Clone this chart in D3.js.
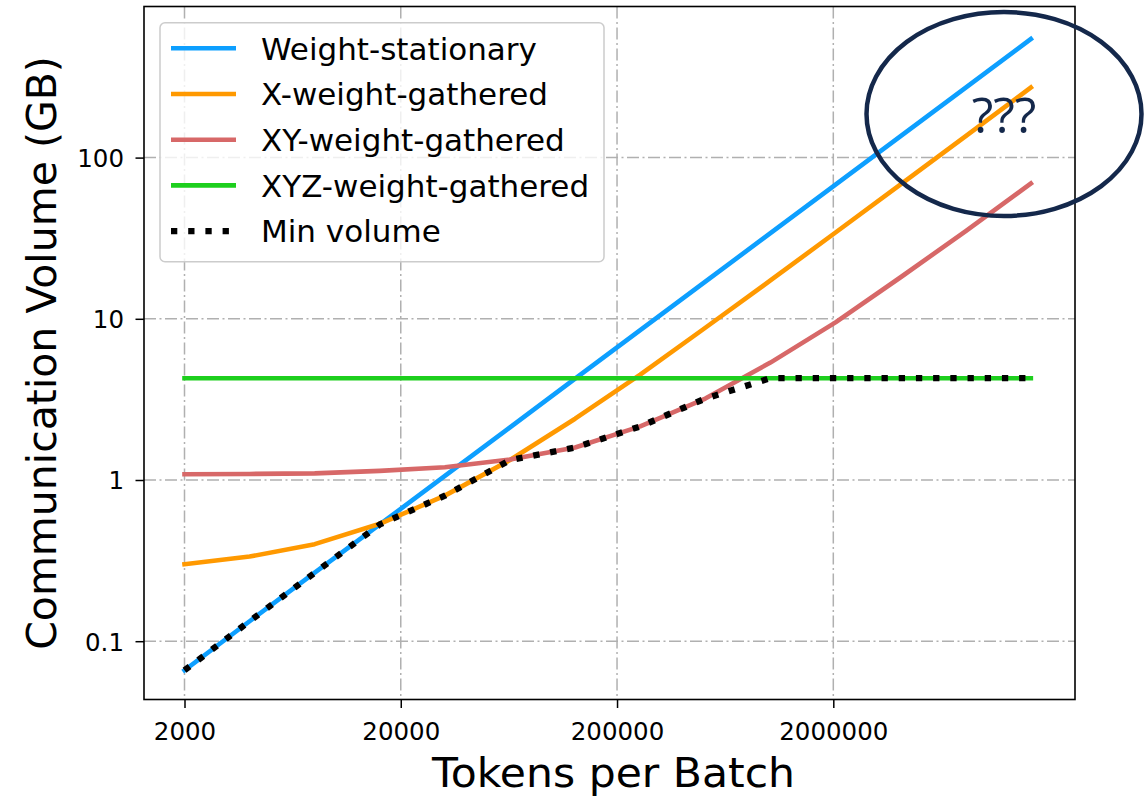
<!DOCTYPE html>
<html>
<head>
<meta charset="utf-8">
<script src="https://cdn.jsdelivr.net/npm/d3@7"></script>
<style>
    body { margin: 0; background: #ffffff; }
    svg { font-family: "DejaVu Sans", sans-serif; }
</style>
</head>
<body>
<div id="chart"></div>
<script>
// values, batch size doubles each step
var tokens = [2000, 4000, 8000, 16000, 32000, 64000, 128000, 256000, 512000, 1024000, 2048000, 4096000, 8192000, 16384000];
var weightStationary = [0.066, 0.133, 0.266, 0.53, 1.06, 2.12, 4.25, 8.5, 17, 34, 68, 136, 272, 544];
var xWeightGathered = [0.30, 0.335, 0.40, 0.535, 0.80, 1.33, 2.4, 4.5, 8.8, 17.3, 34.3, 68.3, 136, 272];
var xyWeightGathered = [1.085, 1.09, 1.10, 1.14, 1.2, 1.34, 1.59, 2.15, 3.2, 5.35, 9.5, 18.1, 35, 69];
var xyzWeightGathered = [4.28, 4.28, 4.28, 4.28, 4.28, 4.28, 4.28, 4.28, 4.28, 4.28, 4.28, 4.28, 4.28, 4.28];
var minVolume = [0.066, 0.133, 0.266, 0.53, 0.80, 1.33, 1.59, 2.15, 3.2, 4.28, 4.28, 4.28, 4.28, 4.28];

var seriesNames = ["Weight-stationary", "X-weight-gathered", "XY-weight-gathered", "XYZ-weight-gathered", "Min volume"];
var seriesColors = ["#0d9fff", "#ff9900", "#d76868", "#1dcf1d", "#000000"];

var xTicks = [2000, 20000, 200000, 2000000];
var xTickLabels = ["2000", "20000", "200000", "2000000"];
var yTicks = [0.1, 1, 10, 100];
var yTickLabels = ["0.1", "1", "10", "100"];

var W = 1148, H = 797;
var plot = {left: 144, top: 6.5, right: 1075, bottom: 699.5};

function init() {
    var series = [weightStationary, xWeightGathered, xyWeightGathered, xyzWeightGathered, minVolume];

    var svg = d3.select("#chart").append("svg")
        .attr("width", W)
        .attr("height", H)
        .style("background-color", "#ffffff");

    var x = d3.scaleLog()
        .domain([2000, 2000000])
        .range([184.5, 833.3]);

    var y = d3.scaleLog()
        .domain([0.1, 100])
        .range([641.2, 157.6]);

    // grid
    var grid = svg.append("g");
    xTicks.forEach(function (t) {
        grid.append("line")
            .attr("x1", x(t)).attr("x2", x(t))
            .attr("y1", plot.top).attr("y2", plot.bottom)
            .attr("stroke", "#b0b0b0")
            .attr("stroke-width", 1.5)
            .attr("stroke-dasharray", "12,3.5,2,3.5");
    });
    yTicks.forEach(function (t) {
        grid.append("line")
            .attr("x1", plot.left).attr("x2", plot.right)
            .attr("y1", y(t)).attr("y2", y(t))
            .attr("stroke", "#b0b0b0")
            .attr("stroke-width", 1.5)
            .attr("stroke-dasharray", "12,3.5,2,3.5");
    });

    // lines
    var line = d3.line()
        .x(function (d, i) { return x(tokens[i]); })
        .y(function (d) { return y(d); });

    for (var s = 0; s < series.length; s++) {
        var path = svg.append("path")
            .datum(series[s])
            .attr("d", line)
            .attr("fill", "none")
            .attr("stroke", seriesColors[s])
            .attr("stroke-linejoin", "round");
        if (s == 4) {
            path.attr("stroke-width", 6.3)
                .attr("stroke-dasharray", "6.3,10.9")
                .attr("stroke-linecap", "butt");
        } else {
            path.attr("stroke-width", 4.6)
                .attr("stroke-linecap", "square");
        }
    }

    // frame
    svg.append("rect")
        .attr("x", plot.left)
        .attr("y", plot.top)
        .attr("width", plot.right - plot.left)
        .attr("height", plot.bottom - plot.top)
        .attr("fill", "none")
        .attr("stroke", "#000000")
        .attr("stroke-width", 1.6);

    // axes
    var xAxis = d3.axisBottom(x)
        .tickValues(xTicks)
        .tickFormat(function (d, i) { return xTickLabels[i]; })
        .tickSize(8.5)
        .tickSizeOuter(0);
    var gx = svg.append("g")
        .attr("transform", "translate(0," + plot.bottom + ")")
        .call(xAxis);
    gx.select(".domain").remove();
    gx.selectAll("line").attr("stroke-width", 1.5);
    gx.selectAll("text")
        .attr("y", 40)
        .attr("dy", null)
        .attr("fill", "#000000")
        .style("font-size", "24.5px")
        .style("font-family", "DejaVu Sans");

    var yAxis = d3.axisLeft(y)
        .tickValues(yTicks)
        .tickFormat(function (d, i) { return yTickLabels[i]; })
        .tickSize(8.5)
        .tickSizeOuter(0);
    var gy = svg.append("g")
        .attr("transform", "translate(" + plot.left + ",0)")
        .call(yAxis);
    gy.select(".domain").remove();
    gy.selectAll("line").attr("stroke-width", 1.5);
    gy.selectAll("text")
        .attr("x", -20)
        .attr("dy", "0.36em")
        .attr("fill", "#000000")
        .style("font-size", "24.5px")
        .style("font-family", "DejaVu Sans");

    // axis titles
    svg.append("text")
        .attr("x", 613.5)
        .attr("y", 787)
        .attr("text-anchor", "middle")
        .attr("textLength", 363)
        .attr("lengthAdjust", "spacingAndGlyphs")
        .style("font-size", "41.5px")
        .text("Tokens per Batch");

    svg.append("text")
        .attr("transform", "translate(55.5," + (plot.top + plot.bottom) / 2 + ") rotate(-90)")
        .attr("text-anchor", "middle")
        .style("font-size", "41px")
        .text("Communication Volume (GB)");

    // legend
    var legend = svg.append("g");
    legend.append("rect")
        .attr("x", 160)
        .attr("y", 22.7)
        .attr("width", 444)
        .attr("height", 239)
        .attr("rx", 5)
        .attr("fill", "#ffffff")
        .attr("fill-opacity", 0.8)
        .attr("stroke", "#cccccc")
        .attr("stroke-width", 1.5);

    for (var k = 0; k < seriesNames.length; k++) {
        var ly = 48.3 + k * 45.7;
        var handle = legend.append("line")
            .attr("x1", 171).attr("x2", 236)
            .attr("y1", ly).attr("y2", ly)
            .attr("stroke", seriesColors[k]);
        if (k == 4) {
            handle.attr("stroke-width", 6.3)
                .attr("stroke-dasharray", "6.3,10.9");
        } else {
            handle.attr("stroke-width", 4.6);
        }
        legend.append("text")
            .attr("x", 261)
            .attr("y", ly + 11.2)
            .style("font-size", "31px")
            .text(seriesNames[k]);
    }

    // annotation
    svg.append("ellipse")
        .attr("cx", 1004)
        .attr("cy", 114)
        .attr("rx", 137.5)
        .attr("ry", 102)
        .attr("fill", "none")
        .attr("stroke", "#14284b")
        .attr("stroke-width", 4.5);

    svg.append("text")
        .attr("x", 1004)
        .attr("y", 133)
        .attr("text-anchor", "middle")
        .attr("fill", "#14284b")
        .style("font-family", "Open Sans")
        .style("font-size", "50px")
        .text("???");
}

init();
</script>
</body>
</html>
